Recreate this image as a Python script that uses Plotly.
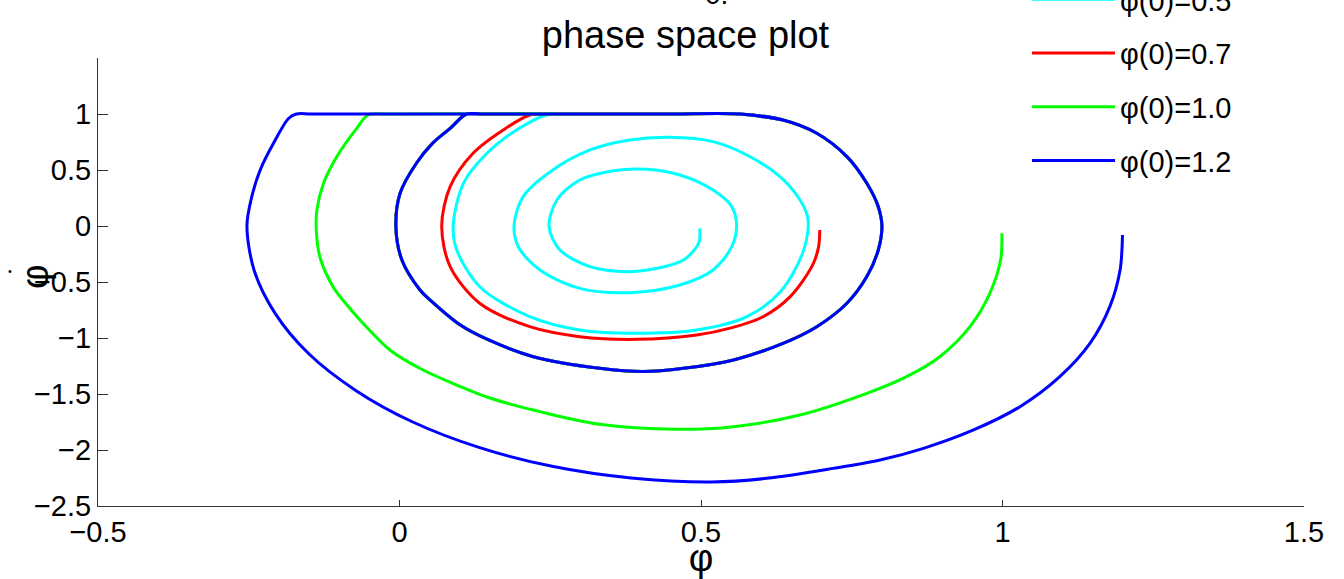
import plotly.graph_objects as go

# ---- data ----
cyan_phi = [0.498, 0.496, 0.471, 0.427, 0.377, 0.316, 0.266, 0.248, 0.261, 0.299, 0.355, 0.41, 0.465, 0.520,
            0.551, 0.559, 0.551, 0.520, 0.465, 0.382, 0.299, 0.233, 0.197, 0.190, 0.205, 0.25, 0.316, 0.382,
            0.448, 0.52, 0.576, 0.631, 0.662, 0.676, 0.678, 0.668, 0.632, 0.576, 0.493, 0.393, 0.299, 0.216,
            0.133, 0.095, 0.089, 0.106, 0.145, 0.194, 0.244, 0.27]
cyan_dphi = [-0.021, -0.155, -0.304, -0.378, -0.408, -0.363, -0.214, -0.006, 0.232, 0.411, 0.494, 0.506, 0.455,
             0.321, 0.173, 0.009, -0.185, -0.393, -0.527, -0.595, -0.557, -0.393, -0.185, 0.009, 0.262, 0.485,
             0.679, 0.768, 0.792, 0.753, 0.634, 0.44, 0.25, 0.10, 0.0, -0.25, -0.585, -0.81, -0.929, -0.958,
             -0.929, -0.81, -0.542, -0.214, 0.0, 0.381, 0.649, 0.857, 0.991, 1.0]

red_phi = [0.697, 0.695, 0.685, 0.648, 0.603, 0.55, 0.493, 0.393, 0.299, 0.216, 0.133, 0.084, 0.07, 0.084,
           0.122, 0.172, 0.216, 0.245]
red_dphi = [-0.036, -0.185, -0.35, -0.631, -0.81, -0.91, -0.973, -1.012, -0.988, -0.899, -0.69, -0.363, 0.0,
            0.351, 0.649, 0.857, 0.991, 1.0]

green_phi = [0.999, 0.997, 0.979, 0.946, 0.896, 0.841, 0.775, 0.664, 0.554, 0.46, 0.332, 0.222, 0.150, 0.095,
             0.039, -0.016, -0.061, -0.094, -0.110, -0.132, -0.138, -0.137, -0.126, -0.104, -0.071, -0.052,
             -0.02]
green_dphi = [-0.065, -0.30, -0.601, -0.899, -1.167, -1.345, -1.494, -1.6875, -1.792, -1.815, -1.771, -1.643,
              -1.536, -1.42, -1.286, -1.107, -0.866, -0.661, -0.545, -0.277, -0.036, 0.143, 0.381, 0.619, 0.872,
              0.991, 1.0]

blue_phi = [1.199, 1.195, 1.178, 1.145, 1.095, 1.029, 0.952, 0.869, 0.797, 0.719, 0.609, 0.518, 0.384, 0.255,
            0.133, 0.022, -0.072, -0.150, -0.206, -0.241, -0.253, -0.245, -0.231, -0.209, -0.184, -0.171,
            -0.145]
blue_dphi = [-0.08, -0.393, -0.72, -1.048, -1.345, -1.613, -1.821, -1.985, -2.089, -2.164, -2.253, -2.286,
             -2.25, -2.148, -1.979, -1.750, -1.470, -1.143, -0.782, -0.397, 0.0, 0.262, 0.5, 0.738, 0.96, 1.0,
             1.0]

# limit cycle that every trajectory ends on
cycle_phi = [0.30, 0.45, 0.565, 0.636, 0.692, 0.742, 0.775, 0.794, 0.800, 0.794, 0.775, 0.742, 0.692, 0.636,
             0.554, 0.471, 0.404, 0.332, 0.222, 0.146, 0.101, 0.051, 0.034, 0.004, -0.006, 0.001, 0.028, 0.055,
             0.084, 0.111, 0.135, 0.30, 0.45, 0.565, 0.636]
cycle_dphi = [1.0, 1.0, 1.0, 0.946, 0.828, 0.619, 0.381, 0.172, 0.0, -0.214, -0.452, -0.69, -0.899, -1.048,
              -1.196, -1.271, -1.30, -1.271, -1.167, -1.013, -0.884, -0.661, -0.571, -0.304, -0.006, 0.292, 0.56,
              0.74, 0.872, 1.0, 1.0, 1.0, 1.0, 1.0, 0.946]

names = ["φ(0)=0.5", "φ(0)=0.7", "φ(0)=1.0", "φ(0)=1.2"]
colors = ["#00FFFF", "#FF0000", "#00FF00", "#0000FF"]
series = [(cyan_phi, cyan_dphi), (red_phi, red_dphi), (green_phi, green_dphi), (blue_phi, blue_dphi)]

x_ticks = [-0.5, 0, 0.5, 1, 1.5]
x_labels = ["−0.5", "0", "0.5", "1", "1.5"]
y_ticks = [-2.5, -2, -1.5, -1, -0.5, 0, 0.5, 1]
y_labels = ["−2.5", "−2", "−1.5", "−1", "−0.5", "0", "0.5", "1"]

FONT = "Liberation Sans, Arial, sans-serif"
W, H = 1344, 579
L, R, T, B = 98, 40, 58, 73
PW, PH = W - L - R, H - T - B


def px_x(p):
    return (p - L) / PW


def px_y(p):
    return (H - B - p) / PH


fig = go.Figure()
for (xs, ys), nm, col in zip(series, names, colors):
    fig.add_trace(go.Scatter(
        x=list(xs) + cycle_phi, y=list(ys) + cycle_dphi, mode="lines", name=nm,
        legendgroup=nm,
        line=dict(color=col, width=3, shape="spline", smoothing=0.9),
    ))

axis_common = dict(showgrid=False, zeroline=False, showline=True, linecolor="#333333", linewidth=1,
                   ticks="inside", tickcolor="#333333", tickfont=dict(family=FONT, size=29, color="black"),
                   mirror=False)

fig.update_layout(
    width=W, height=H,
    margin=dict(l=L, r=R, t=T, b=B, autoexpand=False),
    paper_bgcolor="white", plot_bgcolor="white",
    title=dict(text="phase space plot", x=px_x(685.5), xanchor="center", xref="paper",
               y=1 - 35 / H, yanchor="middle", font=dict(family=FONT, size=38, color="black")),
    xaxis=dict(range=[-0.5, 1.5], tickvals=x_ticks, ticktext=x_labels, ticklen=6,
               title=dict(text="φ", font=dict(family=FONT, size=38, color="black"), standoff=5),
               **axis_common),
    yaxis=dict(range=[-2.5, 1.5], tickvals=y_ticks, ticktext=y_labels, ticklen=10, **axis_common),
    legend=dict(x=px_x(1027), xanchor="left", y=px_y(-26), yanchor="top",
                font=dict(family=FONT, size=29, color="black"), bgcolor="rgba(0,0,0,0)",
                tracegroupgap=13, itemwidth=83),
    showlegend=True,
    annotations=[
        dict(text="φ", xref="paper", yref="paper", x=px_x(35), y=px_y(277),
             xanchor="center", yanchor="middle", textangle=-90, showarrow=False,
             font=dict(family=FONT, size=38, color="black")),
        dict(text="•", xref="paper", yref="paper", x=px_x(10), y=px_y(271),
             xanchor="center", yanchor="middle", showarrow=False,
             font=dict(family=FONT, size=11, color="black")),
        dict(text="0.", xref="paper", yref="paper", x=px_x(716), y=px_y(12),
             xanchor="center", yanchor="bottom", showarrow=False,
             font=dict(family=FONT, size=28, color="black")),
    ],
)

fig.write_html("out.html", config={"displayModeBar": False},
               post_script="document.body.style.margin='0';")
